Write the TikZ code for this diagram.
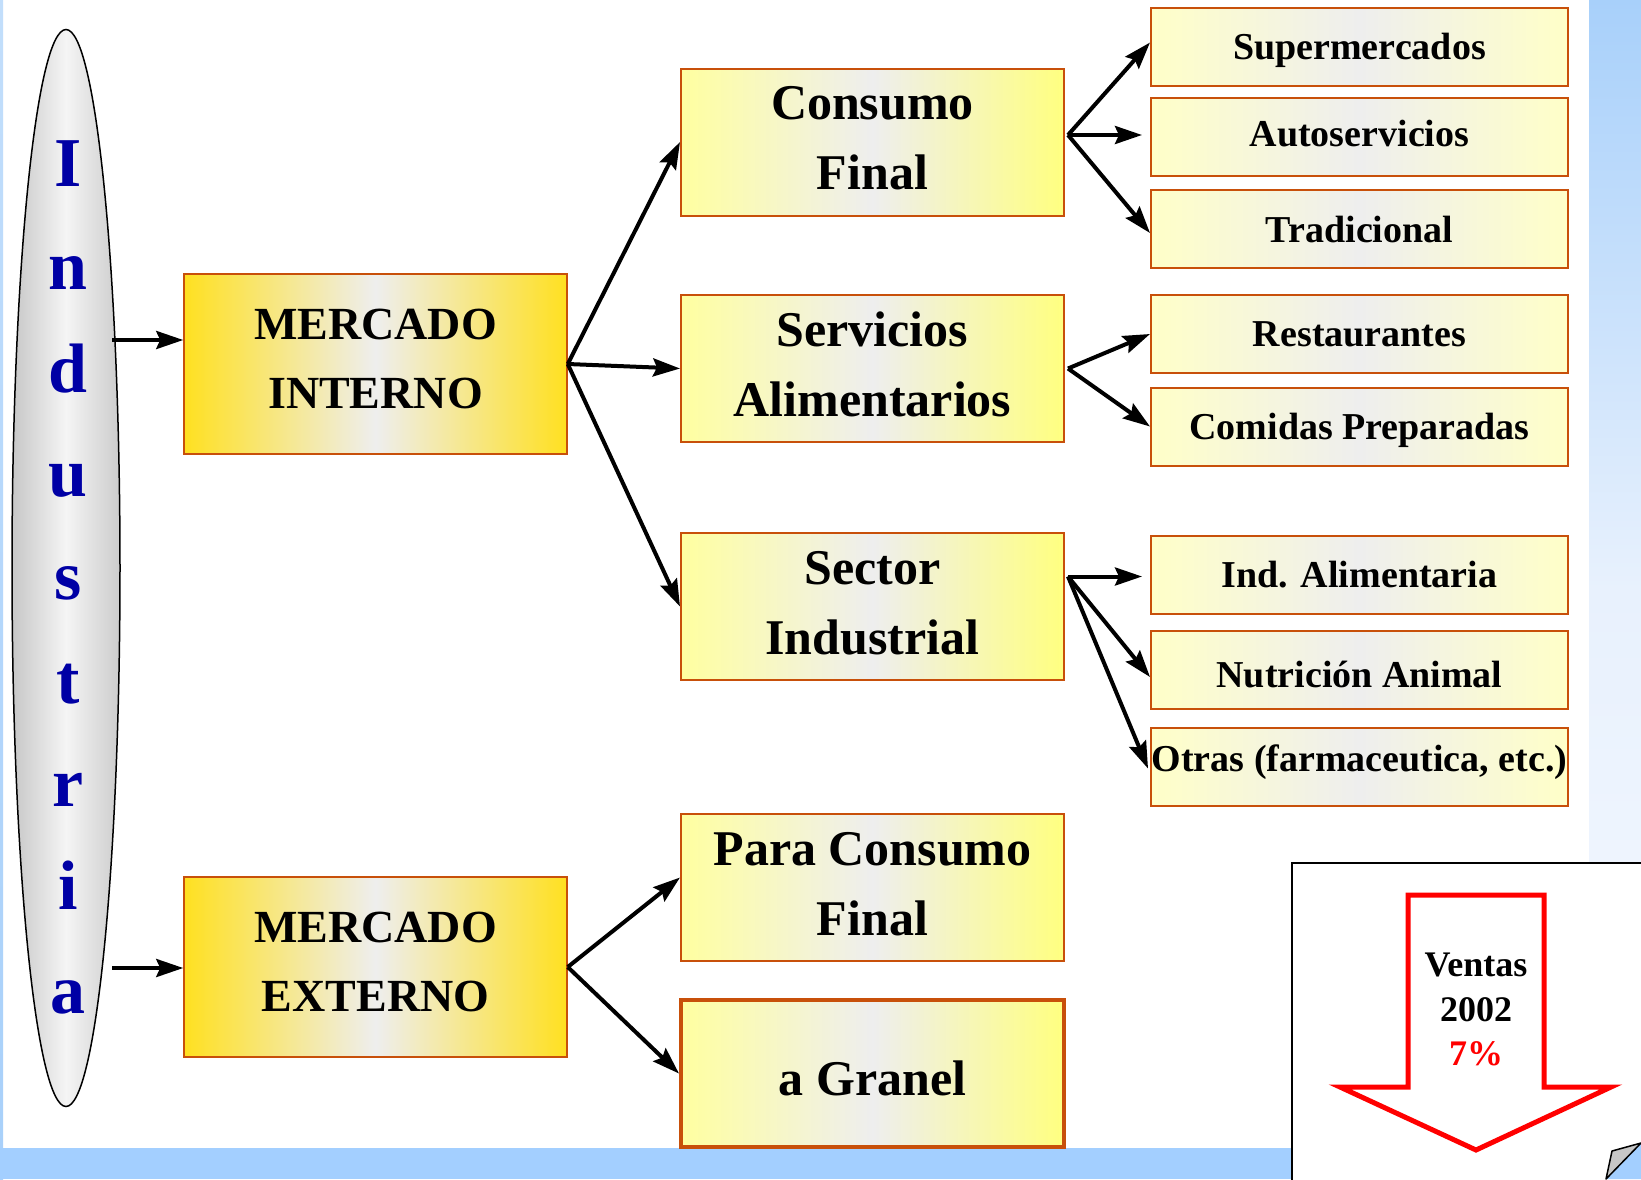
\documentclass[tikz,border=0pt]{standalone}
\usepackage{fontspec}
\setmainfont{Liberation Serif}
\usetikzlibrary{arrows.meta,calc,shapes.geometric}
\definecolor{edgeor}{RGB}{200,80,10}
\definecolor{gold}{RGB}{255,224,32}
\definecolor{midgray}{RGB}{238,238,238}
\definecolor{yelL}{RGB}{255,255,160}
\definecolor{yelR}{RGB}{255,255,128}
\definecolor{paleY}{RGB}{255,255,200}
\definecolor{indblue}{RGB}{0,0,165}
\definecolor{stripblue}{RGB}{163,207,255}
\definecolor{skytop}{RGB}{168,208,250}
\definecolor{skymid}{RGB}{232,241,253}
\definecolor{skybot}{RGB}{245,248,255}
\begin{document}
\begin{tikzpicture}[x=1pt,y=-1pt,
  mbox/.style={draw=edgeor,line width=1.5pt,left color=gold,right color=gold,middle color=midgray,
    minimum width=383pt,minimum height=180pt,inner sep=0pt,align=center,text depth=10pt,
    font=\fontsize{46}{69}\selectfont\bfseries},
  cbox/.style={draw=edgeor,line width=2pt,left color=yelL,right color=yelR,middle color=midgray,
    minimum width=383pt,minimum height=147pt,inner sep=0pt,align=center,text depth=8pt,
    font=\fontsize{50}{70}\selectfont\bfseries},
  rbox/.style={draw=edgeor,line width=2pt,left color=paleY,right color=paleY,middle color=midgray,
    minimum width=417pt,minimum height=78pt,inner sep=0pt,align=center,text depth=0pt,
    font=\fontsize{38}{46}\selectfont\bfseries},
  arr/.style={line width=4pt,-{Stealth[length=27pt,width=18pt,inset=4pt]}},
  letter/.style={anchor=base,text=indblue,font=\fontsize{70}{70}\selectfont\bfseries},
  vtext/.style={anchor=base,font=\fontsize{36}{36}\selectfont\bfseries},
]
\useasboundingbox (0,0) rectangle (1641,1179);
\fill[white] (0,0) rectangle (1641,1179);
% background strips
\fill[top color=skytop,bottom color=skybot,middle color=skymid] (1589,0) rectangle (1641,1179);
\fill[top color=skytop!70!white,bottom color=skytop] (0,0) rectangle (3,1179);
\fill[stripblue] (0,1148) rectangle (1641,1179);

% Industria ellipse
\node[ellipse,draw=black,line width=1.5pt,left color=black!22,right color=black!20,middle color=black!4,
  minimum width=108pt,minimum height=1077pt,inner sep=0pt] (ind) at (66,568) {};
\foreach \l [count=\i from 0] in {I,n,d,u,s,t,r,i,a}
  \node[letter] (L\i) at (68,{186+103.4*\i}) {\l};

% market boxes
\node[mbox] (mi) at (375.5,364) {MERCADO\\INTERNO};
\node[mbox] (me) at (375.5,967) {MERCADO\\EXTERNO};

% middle boxes
\node[cbox] (cf) at (872.5,142) {Consumo\\Final};
\node[cbox] (sa) at (872.5,368.5) {Servicios\\Alimentarios};
\node[cbox] (si) at (872.5,606.5) {Sector\\Industrial};
\node[cbox] (pc) at (872.5,887.5) {Para Consumo\\Final};
\node[cbox,line width=4pt,text depth=0pt,text height=43pt] (ag) at (872.5,1073.5) {a Granel};

% right boxes
\node[rbox] (sm) at (1359.5,46.5) {Supermercados};
\node[rbox,text depth=8pt] (as) at (1359.5,137) {Autoservicios};
\node[rbox] (tr) at (1359.5,229) {Tradicional};
\node[rbox] (re) at (1359.5,334) {Restaurantes};
\node[rbox] (co) at (1359.5,426.5) {Comidas Preparadas};
\node[rbox] (ia) at (1359.5,574.5) {Ind. Alimentaria};
\node[rbox,text height=34pt] (na) at (1359.5,670) {Nutrición Animal};
\node[rbox,text depth=16pt] (ot) at (1359.5,766.5) {Otras (farmaceutica, etc.)};

% connectors
\coordinate (i1) at (112,340);
\coordinate (i2) at (112,968);
\draw[arr] (i1) -- (i1 -| mi.west);
\draw[arr] (i2) -- (i2 -| me.west);
\draw[arr] (mi.east) -- (cf.west);
\draw[arr] (mi.east) -- (sa.west);
\draw[arr] (mi.east) -- (si.west);
\draw[arr] (me.east) -- ($(pc.west)+(0,-10)$);
\draw[arr] (me.east) -- (ag.west);
\coordinate (cfo) at ($(cf.east)+(3,-7)$);
\draw[arr] (cfo) -- ($(sm.west)+(0,-4)$);
\draw[arr,shorten >=8pt] (cfo) -- (cfo -| as.west);
\draw[arr] (cfo) -- ($(tr.west)+(0,4)$);
\coordinate (sao) at ($(sa.east)+(3,0)$);
\draw[arr] (sao) -- (re.west);
\draw[arr] (sao) -- (co.west);
\coordinate (sio) at ($(si.east)+(3,-30)$);
\draw[arr,shorten >=8pt] (sio) -- (sio -| ia.west);
\draw[arr] (sio) -- ($(na.west)+(0,7)$);
\draw[arr] (sio) -- ($(ot.west)+(-2,2)$);

% sales panel
\filldraw[fill=white,draw=black,line width=2pt] (1292,863) rectangle (1660,1200);
\draw[red,line width=5pt,line join=miter] (1408,895) -- (1544,895) -- (1544,1087) -- (1611,1087)
  -- (1476,1150) -- (1340,1087) -- (1408,1087) -- cycle;
\node[vtext] (v1) at (1476,976) {Ventas};
\node[vtext] (v2) at (1476,1021) {2002};
\node[vtext,text=red] (v3) at (1476,1065) {7\%};
% page curl
\fill[stripblue] (1606,1179) -- (1641,1143) -- (1641,1179) -- cycle;
\filldraw[fill=black!22,draw=black,line width=1.5pt,line join=round] (1606,1179) -- (1612,1151) -- (1641,1143) -- cycle;
\end{tikzpicture}
\end{document}
